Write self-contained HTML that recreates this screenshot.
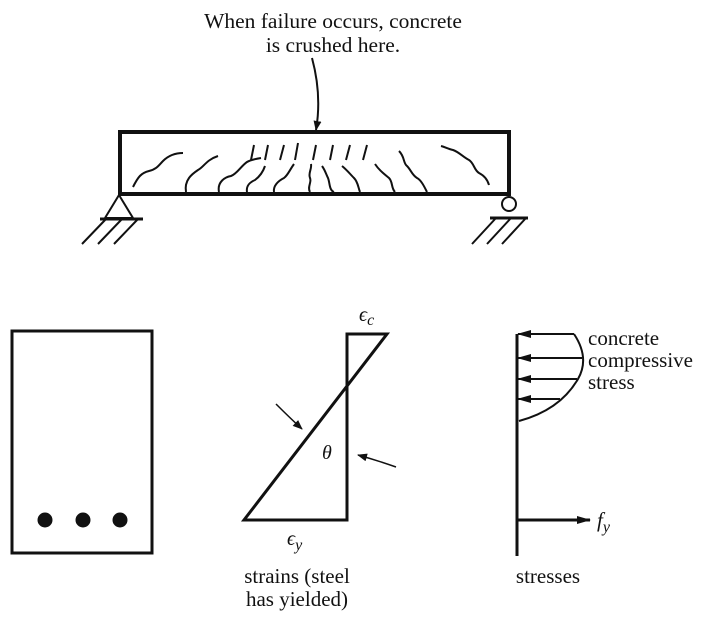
<!DOCTYPE html>
<html><head><style>body{margin:0;background:#fff}svg{display:block}text{font-family:"Liberation Serif",serif;fill:#111}</style></head>
<body>
<svg width="706" height="617" viewBox="0 0 706 617" xmlns="http://www.w3.org/2000/svg">
<defs>
<marker id="ah" markerWidth="10" markerHeight="8" refX="9" refY="4" orient="auto" markerUnits="userSpaceOnUse"><path d="M0,0 L10,4 L0,8 Z" fill="#111"/></marker>
<marker id="ah2" markerWidth="14" markerHeight="8" refX="13" refY="4" orient="auto" markerUnits="userSpaceOnUse"><path d="M0,0 L14,4 L0,8 Z" fill="#111"/></marker>
</defs>
<g fill="none" stroke="#111">
<text x="333" y="28" font-size="21.5" text-anchor="middle" stroke="none">When failure occurs, concrete</text>
<text x="333" y="52" font-size="21.5" text-anchor="middle" stroke="none">is crushed here.</text>
<path d="M312,58 Q322,95 316,130" stroke-width="2" marker-end="url(#ah)"/>
<rect x="120" y="132" width="389" height="62" stroke-width="4"/>
<g stroke-width="2">
<path d="M254,145 l-3,15 M268,145 l-3,15 M284,145 l-4,15 M298,143 l-3,17 M316,145 l-3,15 M333,145 l-3,15 M350,145 l-4,15 M367,145 l-4,15"/>
<path d="M133,187 c5,-10 8,-14 16,-16 c8,-2 10,-6 14,-10 c5,-5 12,-8 20,-8"/>
<path d="M186,192 c-2,-12 6,-18 12,-22 c6,-3 8,-10 20,-14"/>
<path d="M219,192 c-2,-10 6,-15 12,-16 c6,-2 10,-10 16,-14 c3,-2 8,-3 14,-4"/>
<path d="M247,192 c-1,-6 3,-10 8,-12 c4,-3 8,-8 10,-14"/>
<path d="M274,192 c-1,-6 4,-11 10,-14 c4,-3 5,-7 10,-14"/>
<path d="M310,192 c-3,-5 2,-10 0,-14 c-2,-5 2,-9 1,-14"/>
<path d="M334,192 c-5,-2 -4,-9 -6,-14 c-2,-4 -3,-8 -6,-12"/>
<path d="M360,192 c-2,-5 -2,-10 -6,-14 c-4,-4 -7,-8 -12,-12"/>
<path d="M395,192 c-4,-4 -2,-10 -6,-14 c-6,-5 -10,-8 -14,-14"/>
<path d="M427,192 c-3,-6 -6,-12 -10,-14 c-5,-3 -6,-8 -10,-12 c-4,-3 -2,-9 -8,-15"/>
<path d="M489,185 c-2,-7 -6,-10 -10,-12 c-5,-3 -5,-10 -10,-13 c-6,-3 -10,-8 -16,-10 c-5,-1 -8,-3 -12,-4"/>
</g>
<path d="M119,195 L105,218 L133,218 Z" stroke-width="2"/>
<path d="M100,219 H143" stroke-width="3"/>
<path d="M106,219 L82,244 M122,219 L98,244 M138,219 L114,244" stroke-width="2"/>
<circle cx="509" cy="204" r="7" stroke-width="2"/>
<path d="M490,218 H528" stroke-width="3"/>
<path d="M496,218 L472,244 M511,218 L487,244 M526,218 L502,244" stroke-width="2"/>
<rect x="12" y="331" width="140" height="222" stroke-width="3"/>
<circle cx="45" cy="520" r="7" fill="#111"/>
<circle cx="83" cy="520" r="7" fill="#111"/>
<circle cx="120" cy="520" r="7" fill="#111"/>
<path d="M347,334 H387 L244,520 H347 Z" stroke-width="3" stroke-linejoin="miter"/>
<path d="M347,334 V520" stroke-width="2"/>
<text x="359" y="321" font-size="20" font-style="italic" stroke="none">ϵ<tspan font-size="16" dy="4">c</tspan></text>
<text x="287" y="545" font-size="20" font-style="italic" stroke="none">ϵ<tspan font-size="16" dy="5">y</tspan></text>
<text x="322" y="459" font-size="20" font-style="italic" stroke="none">θ</text>
<path d="M276,404 Q290,418 302,429" stroke-width="1.5" marker-end="url(#ah)"/>
<path d="M396,467 Q376,460 358,455" stroke-width="1.5" marker-end="url(#ah)"/>
<path d="M517,334 V556" stroke-width="3"/>
<path d="M574,334 Q590,358 578,379 Q560,410 519,421" stroke-width="2"/>
<path d="M574,334 H518" stroke-width="2" marker-end="url(#ah2)"/>
<path d="M582,358 H518" stroke-width="2" marker-end="url(#ah2)"/>
<path d="M577,379 H518" stroke-width="2" marker-end="url(#ah2)"/>
<path d="M560,399 H518" stroke-width="2" marker-end="url(#ah2)"/>
<path d="M517,520 H590" stroke-width="3" marker-end="url(#ah2)"/>
<text x="597" y="527" font-size="21" font-style="italic" stroke="none">f<tspan font-size="16" dy="5">y</tspan></text>
<text x="588" y="345" font-size="21" stroke="none">concrete</text>
<text x="588" y="367" font-size="21" stroke="none">compressive</text>
<text x="588" y="389" font-size="21" stroke="none">stress</text>
<text x="297" y="583" font-size="21" text-anchor="middle" stroke="none">strains (steel</text>
<text x="297" y="606" font-size="21" text-anchor="middle" stroke="none">has yielded)</text>
<text x="548" y="583" font-size="21" text-anchor="middle" stroke="none">stresses</text>
</g>
</svg>
</body></html>
